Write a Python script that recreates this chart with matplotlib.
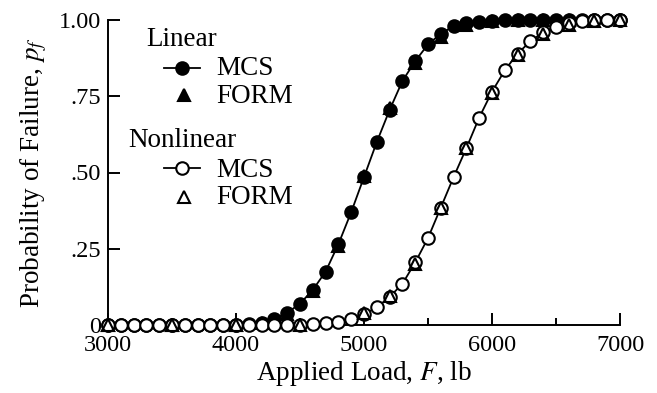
import matplotlib
matplotlib.use("Agg")
from matplotlib import pyplot as plt
import numpy as np

# load values (lb)
carga = list(range(3000, 7001, 100))

# probabilidad de falla, caso lineal, MCS
lineal_mcs = [0, 0, 0, 0, 0, 0, 0, 0, 0, 0, 0,
              0.003, 0.008, 0.02, 0.04, 0.07, 0.115, 0.175, 0.265, 0.37, 0.485,
              0.60, 0.705, 0.80, 0.865, 0.92, 0.955, 0.98, 0.99, 0.995, 0.998,
              1.0, 1.0, 1.0, 1.0, 1.0, 1.0, 1.0, 1.0, 1.0, 1.0]

# caso no lineal, MCS
nolineal_mcs = [0, 0, 0, 0, 0, 0, 0, 0, 0, 0, 0, 0, 0, 0, 0,
                0.001, 0.003, 0.006, 0.011, 0.02, 0.035,
                0.058, 0.092, 0.135, 0.205, 0.285, 0.385, 0.485, 0.58, 0.68, 0.765,
                0.835, 0.89, 0.93, 0.96, 0.978, 0.99, 0.996, 0.999, 1.0, 1.0]

# FORM
carga_form_lin = [3000, 3500, 4000, 4200, 4400, 4600, 4800, 5000, 5200, 5400,
                  5600, 5800, 6000, 6200, 6400, 6600]
lineal_form = [0, 0, 0, 0.007, 0.035, 0.11, 0.26, 0.49, 0.71, 0.86,
               0.945, 0.985, 0.997, 1.0, 1.0, 1.0]

carga_form_nolin = [3000, 3500, 4000, 4500, 5000, 5200, 5400, 5600, 5800, 6000,
                    6200, 6400, 6600, 6800, 7000]
nolineal_form = [0, 0, 0, 0.001, 0.04, 0.095, 0.2, 0.385, 0.58, 0.76,
                 0.885, 0.955, 0.985, 0.997, 1.0]

plt.rcParams['font.family'] = ['Liberation Serif', 'DejaVu Serif']
plt.rcParams['mathtext.fontset'] = 'stix'

fig = plt.figure(figsize=(6.57, 3.93), dpi=100)
ax = fig.add_axes([108 / 657, 1 - 325 / 393, 512 / 657, 305 / 393])

ms = 9
mst = 8.5
mew = 1.5
ax.plot(carga, lineal_mcs, color="black", lw=1.3, marker="o", ms=ms,
        mfc="black", mec="black", mew=mew, clip_on=False, zorder=3)
ax.plot(carga_form_lin, lineal_form, ls="none", marker="^", ms=mst,
        mfc="black", mec="black", mew=mew, clip_on=False, zorder=4)
ax.plot(carga, nolineal_mcs, color="black", lw=1.3, marker="o", ms=ms,
        mfc="white", mec="black", mew=mew, clip_on=False, zorder=5)
ax.plot(carga_form_nolin, nolineal_form, ls="none", marker="^", ms=mst,
        mfc="none", mec="black", mew=mew, clip_on=False, zorder=6)

ax.set_xlim(3000, 7000)
ax.set_ylim(0, 1)
ax.spines["top"].set_visible(False)
ax.spines["right"].set_visible(False)
for s in ("left", "bottom"):
    ax.spines[s].set_linewidth(1.4)

ax.set_xticks([3000, 4000, 5000, 6000, 7000])
ax.set_xticks([3500, 4500, 5500, 6500], minor=True)
ax.set_yticks([0, 0.25, 0.5, 0.75, 1.0])
ax.set_yticklabels(["0", ".25", ".50", ".75", "1.00"])
ax.tick_params(axis="both", which="major", direction="in", length=8.5,
               width=1.4, labelsize=17.5, colors="black")
ax.tick_params(axis="x", which="minor", direction="in", length=5, width=1.4)
ax.tick_params(axis="y", pad=5)
ax.tick_params(axis="x", pad=7.5)

ax.set_xlabel("Applied Load, $F$, lb", fontsize=19.5, labelpad=2)
ax.set_ylabel("Probability of Failure, $p_f$", fontsize=19.5, labelpad=7)

# leyenda hecha a mano
fs = 19.5
tr = ax.transAxes
ax.text(0.074, 0.915, "Linear", transform=tr, fontsize=fs, va="baseline")
ax.plot([0.109, 0.180], [0.843, 0.843], transform=tr, color="black", lw=1.3,
        clip_on=False)
ax.plot([0.1445], [0.843], transform=tr, marker="o", ms=ms, mfc="black",
        mec="black", mew=mew, clip_on=False)
ax.text(0.211, 0.820, "MCS", transform=tr, fontsize=fs, va="baseline")
ax.plot([0.148], [0.754], transform=tr, marker="^", ms=mst, mfc="black",
        mec="black", mew=mew, clip_on=False)
ax.text(0.211, 0.729, "FORM", transform=tr, fontsize=fs, va="baseline")

ax.text(0.039, 0.585, "Nonlinear", transform=tr, fontsize=fs, va="baseline")
ax.plot([0.109, 0.180], [0.515, 0.515], transform=tr, color="black", lw=1.3,
        clip_on=False)
ax.plot([0.1445], [0.515], transform=tr, marker="o", ms=ms, mfc="white",
        mec="black", mew=mew, clip_on=False)
ax.text(0.211, 0.486, "MCS", transform=tr, fontsize=fs, va="baseline")
ax.plot([0.148], [0.420], transform=tr, marker="^", ms=mst, mfc="none",
        mec="black", mew=mew, clip_on=False)
ax.text(0.211, 0.397, "FORM", transform=tr, fontsize=fs, va="baseline")

fig.savefig("out.png", dpi=100)
